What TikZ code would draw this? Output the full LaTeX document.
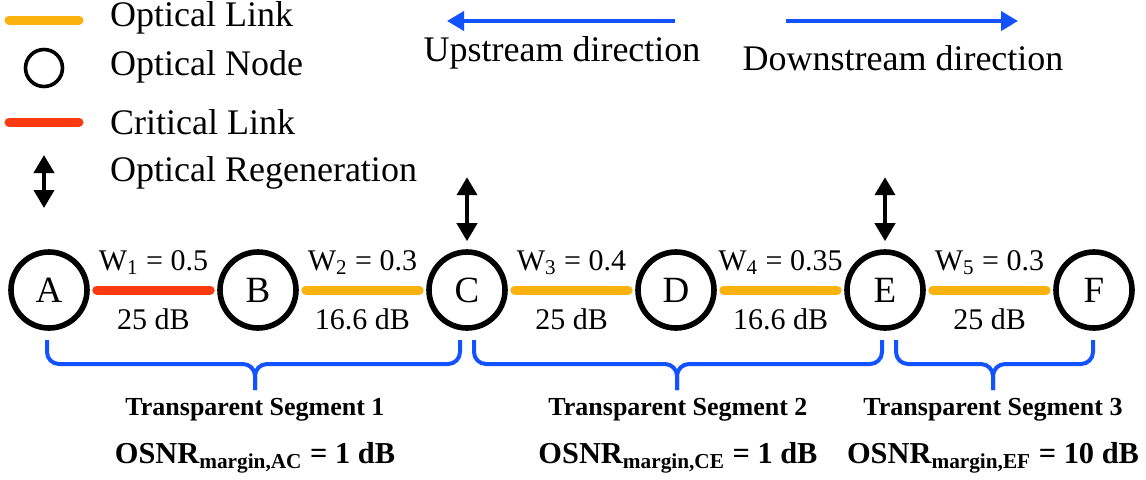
\documentclass[tikz,border=0pt]{standalone}
\usepackage{fontspec}
\setmainfont{Liberation Serif}
\usetikzlibrary{arrows.meta, positioning}
\definecolor{linkorange}{RGB}{249,178,14}
\definecolor{critred}{RGB}{252,58,18}
\definecolor{dirblue}{RGB}{18,82,255}

\begin{document}
\begin{tikzpicture}[x=0.5pt, y=-0.5pt, node distance=104.5pt, on grid,
    every node/.style={font=\fontsize{15}{18}\selectfont},
    onode/.style={circle, draw, line width=2.8pt, minimum size=38pt, inner sep=0pt, font=\fontsize{18.5}{20}\selectfont},
    optlink/.style={line width=4.5pt, line cap=round, draw=linkorange},
    critlink/.style={optlink, draw=critred},
    regen/.style={line width=2pt, {Triangle[width=10pt,length=9pt]}-{Triangle[width=10pt,length=9pt]}},
    dirarrow/.style={line width=2pt, draw=dirblue, -{Triangle[width=9.5pt,length=8.5pt]}},
    segbrace/.style={line width=2pt, draw=dirblue, rounded corners=6pt},
    legtext/.style={anchor=west, font=\fontsize{18}{20}\selectfont},
    segtitle/.style={font=\bfseries\fontsize{13}{15}\selectfont},
    margin/.style={font=\bfseries\fontsize{15.2}{18}\selectfont}]
    \useasboundingbox (0,0) rectangle (1146,479);

    % legend
    \draw[optlink] (9,20) -- (79,20);
    \node[legtext] (lglink) at (103,18) {Optical Link};
    \node[onode, minimum size=18.5pt, line width=1.8pt] (lgnode) at (44,68) {};
    \node[legtext] (lgnodetxt) at (103,67) {Optical Node};
    \draw[critlink] (9,122) -- (79,122);
    \node[legtext] (lgcrit) at (103,122) {Critical Link};
    \draw[regen] (44,155) -- (44,208);
    \node[legtext] (lgregen) at (103,173) {Optical Regeneration};

    % directions
    \draw[dirarrow] (675,21) -- (447,21);
    \node[font=\fontsize{18}{20}\selectfont] (upstream) at (562,53) {Upstream direction};
    \draw[dirarrow] (786,21) -- (1018,21);
    \node[font=\fontsize{18}{20}\selectfont] (downstream) at (903,58) {Downstream direction};

    % optical nodes
    \node[onode] (A) at (49,290) {A};
    \node[onode, right=of A] (B) {B};
    \node[onode, right=of B] (C) {C};
    \node[onode, right=of C] (D) {D};
    \node[onode, right=of D] (E) {E};
    \node[onode, right=of E] (F) {F};

    % links
    \begin{scope}[shorten <=3.5pt, shorten >=3.5pt]
    \draw[critlink] (A) -- node[above=2pt] {W\textsubscript{1} = 0.5} node[below=4pt] {25 dB} (B);
    \draw[optlink] (B) -- node[above=2pt] {W\textsubscript{2} = 0.3} node[below=4pt] {16.6 dB} (C);
    \draw[optlink] (C) -- node[above=2pt] {W\textsubscript{3} = 0.4} node[below=4pt] {25 dB} (D);
    \draw[optlink] (D) -- node[above=2pt] {W\textsubscript{4} = 0.35} node[below=4pt] {16.6 dB} (E);
    \draw[optlink] (E) -- node[above=2pt] {W\textsubscript{5} = 0.3} node[below=4pt] {25 dB} (F);
    \end{scope}

    % regeneration
    \draw[regen] ([yshift=4pt]C.north) -- ++(0,-64);
    \draw[regen] ([yshift=4pt]E.north) -- ++(0,-64);

    % segments
    \draw[segbrace] (47,340) |- (255,364) -- (255,390);
    \draw[segbrace] (460,340) |- (255,364) -- (255,390);
    \draw[segbrace] (474,340) |- (677,364) -- (677,390);
    \draw[segbrace] (882,340) |- (677,364) -- (677,390);
    \draw[segbrace] (896,340) |- (993,364) -- (993,390);
    \draw[segbrace] (1093,340) |- (993,364) -- (993,390);

    \node[segtitle] (seg1) at (255,410) {Transparent Segment 1};
    \node[margin, below=24pt of seg1] (osnr1) {OSNR\textsubscript{margin,AC} = 1 dB};
    \node[segtitle] (seg2) at (678,410) {Transparent Segment 2};
    \node[margin, below=24pt of seg2] (osnr2) {OSNR\textsubscript{margin,CE} = 1 dB};
    \node[segtitle] (seg3) at (993,410) {Transparent Segment 3};
    \node[margin, below=24pt of seg3] (osnr3) {OSNR\textsubscript{margin,EF} = 10 dB};
\end{tikzpicture}
\end{document}
